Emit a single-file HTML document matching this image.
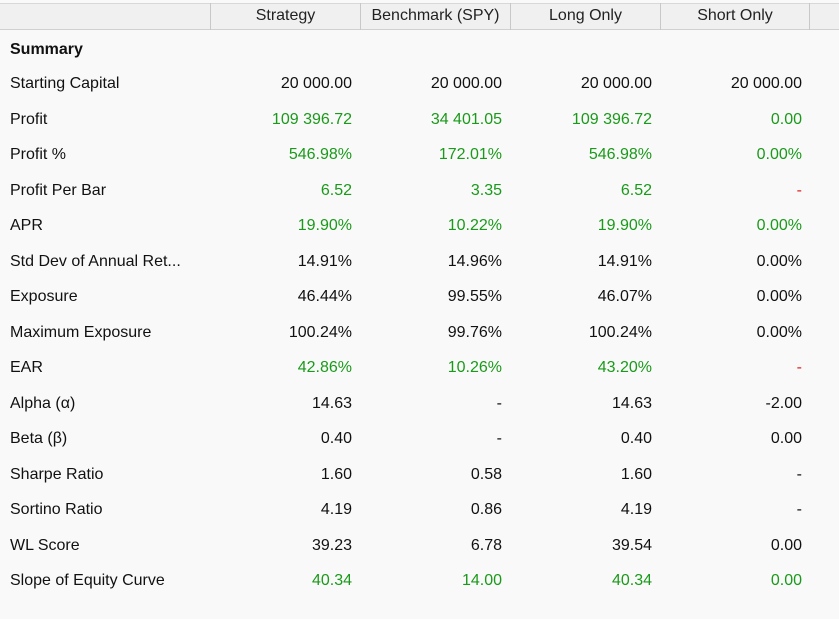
<!DOCTYPE html>
<html><head><meta charset="utf-8"><style>
body{margin:0;width:839px;height:619px;background:#f9f9f9;font-family:"Liberation Sans",sans-serif;font-size:16px;color:#111;position:relative;overflow:hidden}
.hdr{position:absolute;top:3px;height:27px;background:#f0f0f0;border-top:1px solid #d8d8d8;border-bottom:1px solid #d0d0d0;box-sizing:border-box}
.hc{position:absolute;top:3px;height:27px;line-height:26px;text-align:center;border-left:1px solid #c8c8c8;box-sizing:border-box;font-size:16px;color:#222}
.row{position:absolute;left:0;width:839px;height:24px;line-height:24px}
.lab{position:absolute;left:10px}
.v{position:absolute;text-align:right;width:140px}
.g{color:#1a9a1a}.r{color:#e02020}
</style></head><body>
<div class="hdr" style="left:0;width:839px"></div>
<div class="hc" style="left:210px;width:150px">Strategy</div>
<div class="hc" style="left:360px;width:150px">Benchmark (SPY)</div>
<div class="hc" style="left:510px;width:150px">Long Only</div>
<div class="hc" style="left:660px;width:150px;border-right:1px solid #c8c8c8">Short Only</div>
<div class="row" style="top:38px"><span class="lab" style="font-weight:bold">Summary</span></div>
<div id="rows"></div>
<script>
const labels=["Starting Capital","Profit","Profit %","Profit Per Bar","APR","Std Dev of Annual Ret...","Exposure","Maximum Exposure","EAR","Alpha (α)","Beta (β)","Sharpe Ratio","Sortino Ratio","WL Score","Slope of Equity Curve"];
const strategy=["20 000.00","109 396.72","546.98%","6.52","19.90%","14.91%","46.44%","100.24%","42.86%","14.63","0.40","1.60","4.19","39.23","40.34"];
const benchmark=["20 000.00","34 401.05","172.01%","3.35","10.22%","14.96%","99.55%","99.76%","10.26%","-","-","0.58","0.86","6.78","14.00"];
const longOnly=["20 000.00","109 396.72","546.98%","6.52","19.90%","14.91%","46.07%","100.24%","43.20%","14.63","0.40","1.60","4.19","39.54","40.34"];
const shortOnly=["20 000.00","0.00","0.00%","-","0.00%","0.00%","0.00%","0.00%","-","-2.00","0.00","-","-","0.00","0.00"];
const greenRows=[1,2,3,4,8,14];
const cont=document.getElementById('rows');
labels.forEach((l,i)=>{
  const r=document.createElement('div');
  r.className='row';
  r.style.top=(72+i*35.5)+'px';
  
  
  const s=document.createElement('span');s.className='lab';s.textContent=l;
  
  
  r.appendChild(s);
  [strategy,benchmark,longOnly,shortOnly].forEach((arr,c)=>{
    const v=document.createElement('span');v.className='v';
    v.style.left=(212+c*150)+'px';
    v.textContent=arr[i];
    if(greenRows.includes(i)) v.classList.add(arr[i]==='-'?'r':'g');
    
    
    r.appendChild(v);
  });
  cont.appendChild(r);
});
</script>
</body></html>
